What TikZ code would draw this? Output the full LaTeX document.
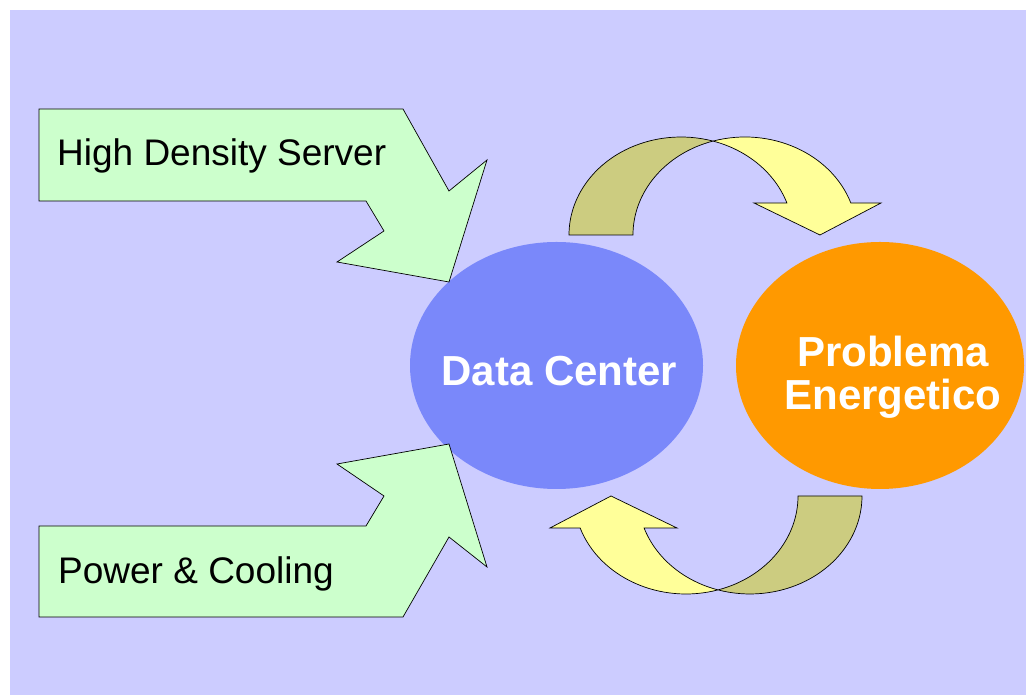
\documentclass[tikz,border=0pt]{standalone}
\usepackage{fontspec}
\setmainfont{Liberation Sans}
\usetikzlibrary{shapes.geometric}
\definecolor{slide}{HTML}{CCCCFF}
\definecolor{mint}{HTML}{CCFFCC}
\definecolor{dcblue}{HTML}{7A88FA}
\definecolor{energy}{HTML}{FF9900}
\definecolor{lemon}{HTML}{FFFF99}
\definecolor{khaki}{HTML}{CCCC80}
% one bent arrow: back band and front band with its head
\newcommand{\bentarrow}{%
  \filldraw[backpart] (569,460) arc[start angle=180,end angle=73.4,x radius=112,y radius=98]
    arc[start angle=106.6,end angle=180,x radius=112,y radius=98] -- cycle;
  \filldraw[frontpart] (713,553.9) arc[start angle=106.6,end angle=19.06,x radius=112,y radius=98]
    -- (881,492) -- (820,460) -- (754,492) -- (786.9,492)
    arc[start angle=19.06,end angle=73.4,x radius=112,y radius=98] -- cycle;
}

\begin{document}
\begin{tikzpicture}[x=1pt,y=1pt,
	feed/.style={draw=black,line width=0.7pt,fill=mint},
	backpart/.style={draw=black,line width=0.7pt,fill=khaki},
	frontpart/.style={draw=black,line width=0.7pt,fill=lemon},
	blob/.style={ellipse,fill=#1,inner sep=0pt,minimum width=293pt,minimum height=247pt},
	caption/.style={inner sep=0pt,anchor=base west,font=\fontsize{37}{40}\selectfont},
	heading/.style={inner sep=0pt,text=white,font=\bfseries\fontsize{42}{43}\selectfont}
	]
	\useasboundingbox (0,0) rectangle (1026,695);
	\fill[white] (0,0) rectangle (1026,695);
	\fill[slide] (10,0) rectangle (1026,685);

	% the two ellipses
	\node[blob=dcblue] (dc) at (556.5,329.5) {};
	\node[blob=energy, minimum width=288pt] (pe) at (880,329.5) {};
	\node[heading, anchor=base] (dctext) at (559.5,309) {Data Center};
	\node[heading, align=center, anchor=base] (petext) at (893,285) {Problema\\Energetico};

	% inputs
	\draw[feed] (39,586) -- (403,586) -- (449,504) -- (487,535) -- (449,413) -- (337,433)
		-- (384,464) -- (366,494) -- (39,494) -- cycle;
	\draw[feed] (39,169) -- (366,169) -- (384,199) -- (337,231) -- (449,251) -- (487,128)
		-- (449,158) -- (403,78) -- (39,78) -- cycle;
	\node[caption] (hds) at (57,529) {High Density Server};
	\node[caption] (pc) at (58,111) {Power \& Cooling};

	% loop between them
	\bentarrow
	\begin{scope}[rotate around={180:(715.5,329.5)}]
		\bentarrow
	\end{scope}
\end{tikzpicture}
\end{document}
